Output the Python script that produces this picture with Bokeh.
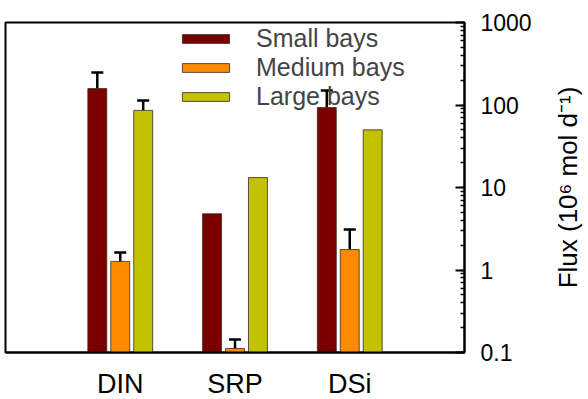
import math
from bokeh.plotting import figure
from bokeh.layouts import row
from bokeh.models import (ColumnDataSource, Whisker, TeeHead, FixedTicker, Legend, LegendItem,
                          CustomJSTickFormatter)
from bokeh.core.properties import value
from bokeh.embed import file_html
from bokeh.resources import INLINE

categories = ["DIN", "SRP", "DSi"]
small = [158, 4.8, 93]
medium = [1.27, 0.112, 1.77]
large = [86, 13.2, 50]
small_err = [90, 0, 57]
medium_err = [0.36, 0.032, 1.33]
large_err = [27, 0, 0]
series_names = ["Small bays", "Medium bays", "Large bays"]
colors = ["#7a0000", "#ff8a00", "#c2c200"]
y_label = "Flux (10\u2076 mol d\u207b\u00b9)"

FONT = "Liberation Sans"

p = figure(frame_width=459, frame_height=330, x_range=(0.0, 4.0), y_range=(0.1, 1000),
           y_axis_type="log", y_axis_location="right", output_backend="svg",
           toolbar_location=None, min_border_left=5, min_border_top=22,
           min_border_bottom=10, min_border_right=86)
p.background_fill_color = "white"
p.border_fill_color = "white"
p.outline_line_color = "black"
p.outline_line_width = 2
p.xgrid.visible = False
p.ygrid.visible = False

xs = [i + 1 for i in range(len(categories))]
offsets = [-0.2, 0.0, 0.2]
renderers = []
for vals, errs, off, col in zip([small, medium, large], [small_err, medium_err, large_err], offsets, colors):
    x = [v + off for v in xs]
    src = ColumnDataSource(dict(x=x, top=vals))
    r = p.vbar(x="x", top="top", bottom=0.1, width=0.165, source=src,
               fill_color=col, line_color="#3a2a20", line_width=0.8)
    renderers.append(r)
    ex = [xi for xi, e in zip(x, errs) if e > 0]
    eb = [v for v, e in zip(vals, errs) if e > 0]
    eu = [v + e for v, e in zip(vals, errs) if e > 0]
    esrc = ColumnDataSource(dict(x=ex, lower=eb, upper=eu))
    w = Whisker(source=esrc, base="x", lower="lower", upper="upper",
                line_color="black", line_width=2.5,
                upper_head=TeeHead(size=12, line_color="black", line_width=2.5),
                lower_head=None)
    p.add_layout(w)

# x axis
p.xaxis.ticker = FixedTicker(ticks=xs)
p.xaxis.major_label_overrides = {x: c for x, c in zip(xs, categories)}
p.xaxis.major_tick_line_color = None
p.xaxis.minor_tick_line_color = None
p.xaxis.axis_line_width = 2
p.xaxis.major_label_text_font = FONT
p.xaxis.major_label_text_font_size = "27px"
p.xaxis.major_label_text_color = "black"
p.xaxis.major_label_standoff = 10

# y axis (right)
p.yaxis.axis_line_width = 2
p.yaxis.major_tick_in = 9
p.yaxis.major_tick_out = 0
p.yaxis.minor_tick_in = 4
p.yaxis.minor_tick_out = 0
p.yaxis.major_tick_line_width = 2
p.yaxis.minor_tick_line_width = 1.5
p.yaxis.major_label_text_font = FONT
p.yaxis.major_label_text_font_size = "23px"
p.yaxis.major_label_text_color = "black"
p.yaxis.major_label_standoff = 16
p.yaxis.formatter = CustomJSTickFormatter(code="return tick < 1 ? tick.toFixed(1) : tick.toFixed(0);")

legend = Legend(items=[LegendItem(label=n, renderers=[r]) for n, r in zip(series_names, renderers)],
                location=(171, 241), padding=0, margin=0, spacing=0,
                glyph_width=59, glyph_height=11, label_height=29, label_standoff=21,
                label_text_font=FONT, label_text_font_size="25px",
                border_line_color=None, background_fill_alpha=0)
p.add_layout(legend)

# narrow panel holding the y-axis title, reading bottom-to-top
p2 = figure(frame_width=34, frame_height=330, x_range=(0, 1), y_range=(0, 1),
            x_axis_location=None, y_axis_location=None, output_backend="svg",
            toolbar_location=None, min_border_left=0, min_border_right=0,
            min_border_top=22, min_border_bottom=0)
p2.outline_line_color = None
p2.xgrid.visible = False
p2.ygrid.visible = False
p2.text(x=[0.5], y=[0.5], text=[y_label], angle=math.pi / 2,
        text_align="center", text_baseline="middle",
        text_font=value(FONT), text_font_size="26px", text_color="black")

layout = row(p, p2, spacing=0)
open("out.html", "w").write(file_html(layout, INLINE))
